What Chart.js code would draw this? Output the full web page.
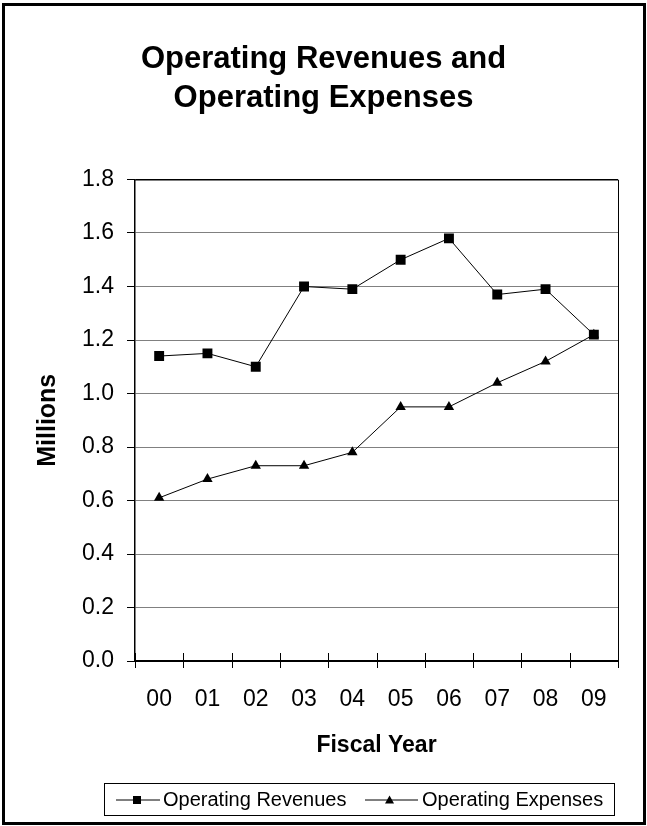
<!DOCTYPE html>
<html>
<head>
<meta charset="utf-8">
<script src="https://cdn.jsdelivr.net/npm/chart.js@4/dist/chart.umd.min.js"></script>
<style>
  html, body { margin: 0; padding: 0; background: #fff; }
  #wrap { position: relative; width: 647px; height: 826px; }
  #c { position: absolute; left: 0; top: 0; }
  #legend {
    position: absolute; left: 104px; top: 783px; width: 509px; height: 31px;
    border: 1px solid #000; font-family: "Liberation Sans", Arial, sans-serif; font-size: 20px;
    color: #000; box-sizing: content-box;
  }
  .item { position: absolute; top: 0; height: 31px; line-height: 31px; white-space: nowrap; }
  .item svg { position: absolute; top: 0; }
  .item span { position: absolute; top: 0; }
</style>
</head>
<body>
<div id="wrap">
  <canvas id="c" width="647" height="826"></canvas>
  <div id="legend">
    <div class="item" style="left:11px">
      <svg width="44" height="31" style="left:0"><line x1="0" y1="16" x2="44" y2="16" stroke="#000" stroke-width="1"/><rect x="17" y="12" width="8" height="8" fill="#000"/></svg>
      <span style="left:47px">Operating Revenues</span>
    </div>
    <div class="item" style="left:260px">
      <svg width="53" height="31" style="left:0"><line x1="0" y1="16" x2="53" y2="16" stroke="#000" stroke-width="1"/><polygon points="24.5,11.5 29,19.5 20,19.5" fill="#000"/></svg>
      <span style="left:57px">Operating Expenses</span>
    </div>
  </div>
</div>
<script>
const titleLines = ["Operating Revenues and", "Operating Expenses"];
const categories = ["00", "01", "02", "03", "04", "05", "06", "07", "08", "09"];
const revenues = [1.14, 1.15, 1.10, 1.40, 1.39, 1.50, 1.58, 1.37, 1.39, 1.22];
const expenses = [0.61, 0.68, 0.73, 0.73, 0.78, 0.95, 0.95, 1.04, 1.12, 1.22];
const yTicks = { min: 0, max: 1.8, step: 0.2 };
const yTitle = "Millions";
const xTitle = "Fiscal Year";
const seriesNames = ["Operating Revenues", "Operating Expenses"];

const FONT = "'Liberation Sans', Arial, sans-serif";

const framePlugin = {
  id: 'frame',
  beforeDraw(chart) {
    const ctx = chart.ctx;
    ctx.save();
    ctx.fillStyle = '#fff';
    ctx.fillRect(0, 0, chart.width, chart.height);
    ctx.restore();
  },
  afterDraw(chart) {
    const ctx = chart.ctx;
    const a = chart.chartArea;
    const xs = chart.scales.x;
    ctx.save();
    ctx.strokeStyle = '#000';
    ctx.lineWidth = 3;
    ctx.strokeRect(3.5, 4.5, chart.width - 6, chart.height - 7);
    ctx.lineWidth = 1;
    ctx.beginPath();
    ctx.moveTo(a.left, a.top + 0.5);
    ctx.lineTo(a.right + 0.5, a.top + 0.5);
    ctx.lineTo(a.right + 0.5, a.bottom + 7);
    ctx.stroke();
    ctx.beginPath();
    for (let i = 0; i <= categories.length; i++) {
      const x = Math.round(xs.getPixelForValue(i - 0.5)) + 0.5;
      ctx.moveTo(x, a.bottom - 8);
      ctx.lineTo(x, a.bottom + 7);
    }
    ctx.stroke();
    ctx.restore();
  }
};

new Chart(document.getElementById('c'), {
  type: 'line',
  data: {
    labels: categories,
    datasets: [
      {
        label: seriesNames[0], data: revenues,
        borderColor: '#000', borderWidth: 1, backgroundColor: '#000',
        pointStyle: 'rect', pointRadius: 7, pointBackgroundColor: '#000', pointBorderColor: '#000', pointBorderWidth: 0,
        tension: 0
      },
      {
        label: seriesNames[1], data: expenses,
        borderColor: '#000', borderWidth: 1, backgroundColor: '#000',
        pointStyle: 'triangle', pointRadius: 6, pointBackgroundColor: '#000', pointBorderColor: '#000', pointBorderWidth: 0,
        tension: 0
      }
    ]
  },
  options: {
    responsive: false,
    animation: false,
    devicePixelRatio: 1,
    layout: { padding: { left: 29, right: 29, top: 0, bottom: 56 } },
    plugins: {
      legend: { display: false },
      tooltip: { enabled: false },
      title: {
        display: true,
        text: titleLines,
        color: '#000',
        font: { family: FONT, size: 31, weight: 'bold', lineHeight: 1.25 },
        padding: { top: 40, bottom: 62 }
      }
    },
    scales: {
      x: {
        type: 'category',
        offset: true,
        grid: { display: false, drawTicks: false, offset: true },
        border: { display: true, color: '#000', width: 2 },
        ticks: { color: '#000', font: { family: FONT, size: 23 }, padding: 25, maxRotation: 0, autoSkip: false },
        title: { display: true, text: xTitle, color: '#000', font: { family: FONT, size: 23, weight: 'bold', lineHeight: 1.2 }, padding: { top: 0, bottom: 11 } },
        afterFit(scale) { scale.height = 109; }
      },
      y: {
        min: yTicks.min, max: yTicks.max,
        grid: {
          color: (c) => (c.tick && Math.abs(c.tick.value - yTicks.max) < 1e-9) ? '#000' : '#808080',
          lineWidth: 1,
          drawTicks: true, tickLength: 8, tickColor: '#000'
        },
        border: { display: true, color: '#000', width: 1.5 },
        ticks: {
          stepSize: yTicks.step, color: '#000', padding: 13,
          font: { family: FONT, size: 23 },
          callback: (v) => Number(v).toFixed(1)
        },
        title: { display: true, text: yTitle, color: '#000', font: { family: FONT, size: 25, weight: 'bold', lineHeight: 1.2 }, padding: { top: 4, bottom: 0 } },
        afterFit(scale) { scale.width = 106; }
      }
    }
  },
  plugins: [framePlugin]
});
</script>
</body>
</html>
